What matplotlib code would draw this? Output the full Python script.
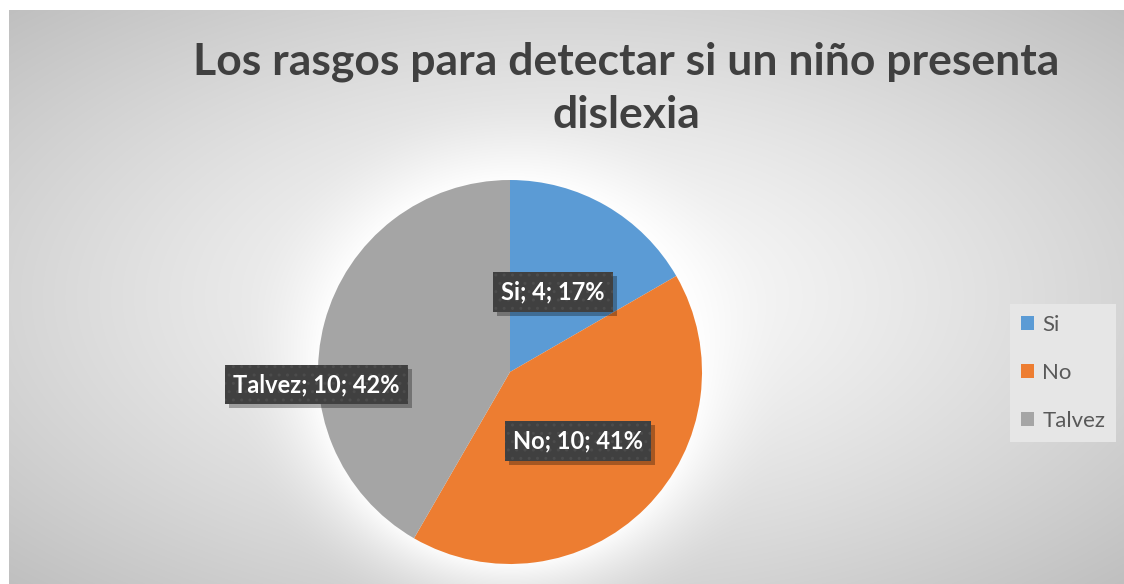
import numpy as np
import matplotlib
matplotlib.use("Agg")
import matplotlib.pyplot as plt
from matplotlib.patches import Patch, Rectangle
from matplotlib.transforms import IdentityTransform

# ---- data ----
categories = ["Si", "No", "Talvez"]
values = [4, 10, 10]
percent_labels = ["17%", "41%", "42%"]
colors = ["#5B9BD5", "#ED7D31", "#A5A5A5"]
title = "Los rasgos para detectar si un niño presenta\ndislexia"

W, H = 1124, 584
DPI = 100
fig = plt.figure(figsize=(W / DPI, H / DPI), dpi=DPI, facecolor="white")

# ---- background gradient (chart area) ----
x0, y0 = 9, 10  # chart area top-left in pixels
bg_ax = fig.add_axes([x0 / W, 0, 1 - x0 / W, 1 - y0 / H])
bg_ax.set_axis_off()
cw, ch = W - x0, H - y0
yy, xx = np.mgrid[0:ch, 0:cw]
cx, cy = 566 - x0, 297 - y0
r = np.sqrt(((xx - cx) / (cw / 2)) ** 2 + ((yy - cy) / (ch / 2)) ** 2) / np.sqrt(2)
val = 1 - 0.25 * np.clip(r, 0, 1.2) ** 1.2
# soft white glow around pie
pcx, pcy, pr = 510 - x0, 372 - y0, 192
d = np.sqrt((xx - pcx) ** 2 + (yy - pcy) ** 2) - pr
glow = np.clip(1 - d / 90, 0, 1) ** 2.2
val = val + (1 - val) * glow * 0.9
img = np.dstack([val, val, val])
bg_ax.imshow(img, aspect="auto", extent=[0, 1, 0, 1], interpolation="bilinear")
bg_ax.set_xlim(0, 1)
bg_ax.set_ylim(0, 1)

# ---- title ----
fig.text(626 / W, 1 - 42 / H, title, ha="center", va="top",
         fontsize=32, fontweight="bold", color="#404040",
         family=["Lato", "DejaVu Sans"], linespacing=1.38)

# ---- pie ----
R = 192
pie_ax = fig.add_axes([(510 - R) / W, (H - 372 - R) / H, 2 * R / W, 2 * R / H])
wedges, _ = pie_ax.pie(values, colors=colors, startangle=90, counterclock=False,
                       radius=1, wedgeprops=dict(linewidth=0))
pie_ax.set_xlim(-1, 1)
pie_ax.set_ylim(-1, 1)
pie_ax.set_aspect("equal")

label_pos = [(0.224, 0.417), (0.354, -0.36), (-1.01, -0.065)]
texts = []
for cat, v, p, pos in zip(categories, values, percent_labels, label_pos):
    s = f"{cat}; {v}; {p}"
    t = pie_ax.text(pos[0], pos[1], s, ha="center", va="center", fontsize=17,
                    fontweight="bold", color="white", family=["Lato", "DejaVu Sans"],
                    zorder=5,
                    bbox=dict(boxstyle="square,pad=0.35", facecolor="#404040",
                              edgecolor="#4c4c4c", linewidth=0, hatch=".."))
    texts.append(t)

# ---- legend ----
handles = [Patch(facecolor=c, edgecolor="none") for c in colors]
leg = fig.legend(handles, categories, loc="upper left",
                 bbox_to_anchor=(1010 / W, 1 - 304 / H), frameon=True,
                 labelspacing=1.25, handlelength=0.6, handleheight=0.6,
                 handletextpad=0.35, borderpad=0.5, borderaxespad=0,
                 fancybox=False,
                 prop=dict(family=["Lato", "DejaVu Sans"], size=16))
leg.get_frame().set_facecolor("#e6e6e6")
leg.get_frame().set_edgecolor("none")
leg.get_frame().set_alpha(1)
for t in leg.get_texts():
    t.set_color("#595959")

# shadows behind data label boxes
fig.canvas.draw()
renderer = fig.canvas.get_renderer()
for t in texts:
    bb = t.get_bbox_patch().get_window_extent(renderer)
    pie_ax.add_patch(Rectangle((bb.x0 + 4, bb.y0 - 4), bb.width, bb.height,
                               transform=IdentityTransform(), facecolor="black",
                               alpha=0.3, linewidth=0, zorder=4, clip_on=False))

fig.savefig("out.png", dpi=DPI, facecolor="white")
